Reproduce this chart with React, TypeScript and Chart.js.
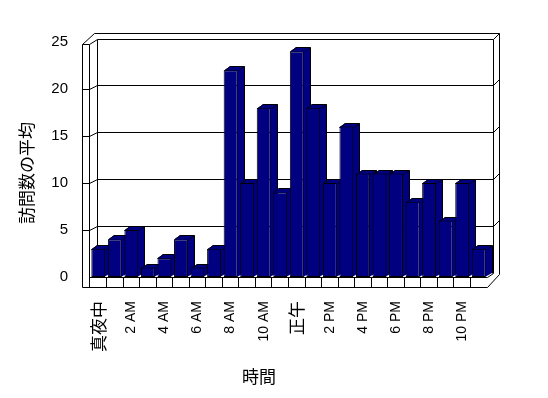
import { useEffect, useRef } from 'react';
import { Chart, registerables } from 'chart.js';

Chart.register(...registerables);

// ---- data ----
const hourLabels = [
  '真夜中', '1 AM', '2 AM', '3 AM', '4 AM', '5 AM', '6 AM', '7 AM', '8 AM', '9 AM', '10 AM', '11 AM',
  '正午', '1 PM', '2 PM', '3 PM', '4 PM', '5 PM', '6 PM', '7 PM', '8 PM', '9 PM', '10 PM', '11 PM',
];
const avgVisits = [3, 4, 5, 1, 2, 4, 1, 3, 22, 10, 18, 9, 24, 18, 10, 16, 11, 11, 11, 8, 10, 6, 10, 3];
const yMin = 0;
const yMax = 25;
const yStep = 5;
const yTitle = '訪問数の平均';
const xTitle = '時間';

// ---- style ----
const LATIN = "'Liberation Sans', Arial, 'Noto Sans CJK JP', sans-serif";
const CJK = "'Noto Sans CJK JP', 'Liberation Sans', sans-serif";
const NAVY = '#000080';
const DX = 6; // bar depth offset
const DY = -4;

const frame3d = {
  id: 'frame3d',
  beforeDatasetsDraw(chart: any) {
    const { ctx, chartArea: ca, scales } = chart;
    const xs = scales.x;
    const ys = scales.y;
    const h = (v: number) => Math.floor(v) + 0.5;
    const line = (pts: number[][]) => {
      ctx.beginPath();
      pts.forEach((p, i) => (i ? ctx.lineTo(h(p[0]), h(p[1])) : ctx.moveTo(h(p[0]), h(p[1]))));
      ctx.stroke();
    };
    const y0 = ys.getPixelForValue(yMin);
    const wallOuter = ca.left - 8;
    const wallInner = ca.left - 1;
    const backLeft = ca.left + 7;
    const backRight = ca.right + 6;
    const outerRight = ca.right + 12;
    const backTop = ca.top - 3;
    const outerTop = ca.top - 9;
    const wallTop = ca.top + 2;
    const floorBottom = y0 + 10;
    const backBottom = y0 - 4;
    const frontRight = ca.right;

    ctx.save();
    ctx.strokeStyle = '#000';
    ctx.lineWidth = 1;

    // outer outline
    line([
      [wallOuter, floorBottom], [wallOuter, wallTop], [wallOuter + 12, outerTop], [outerRight, outerTop],
      [outerRight, backBottom + 1], [frontRight, floorBottom], [wallOuter, floorBottom],
    ]);
    // left wall inner front edge
    line([[wallInner, floorBottom], [wallInner, wallTop], [backLeft, backTop]]);
    line([[wallOuter, wallTop], [wallInner, wallTop]]);
    // back wall face
    line([[backLeft, backBottom], [backLeft, backTop], [backRight, backTop], [backRight, backBottom]]);
    line([[backRight, backTop], [outerRight, outerTop]]);
    // floor
    line([[wallInner, y0], [frontRight, y0], [backRight, backBottom]]);
    // gridlines on back wall
    for (let v = yMin + yStep; v < yMax; v += yStep) {
      const yf = ys.getPixelForValue(v);
      const yb = yf - 4;
      line([[wallOuter, yf], [wallInner, yf], [backLeft, yb], [backRight, yb], [outerRight, yb - 6]]);
    }
    // floor slot dividers
    const n = hourLabels.length;
    const slot = xs.getPixelForValue(1) - xs.getPixelForValue(0);
    for (let i = 1; i < n; i++) {
      const xb = xs.getPixelForValue(i) - slot / 2;
      line([[xb, y0], [xb, floorBottom]]);
    }
    // bar top and side faces
    const meta = chart.getDatasetMeta(0);
    ctx.fillStyle = NAVY;
    meta.data.forEach((el: any) => {
      const { x, y, base, width } = el.getProps(['x', 'y', 'base', 'width'], true);
      const l = Math.round(x - width / 2);
      const r = Math.round(x + width / 2);
      const t = Math.round(y);
      const b = Math.round(base);
      // side
      ctx.beginPath();
      ctx.moveTo(r - 1, t);
      ctx.lineTo(r + DX, t + DY);
      ctx.lineTo(r + DX, b + DY);
      ctx.lineTo(r - 1, b);
      ctx.closePath();
      ctx.fill();
      line([[r, t], [r + DX, t + DY], [r + DX, b + DY]]);
      // top
      ctx.beginPath();
      ctx.moveTo(l, t + 1);
      ctx.lineTo(l + DX, t + DY);
      ctx.lineTo(r + DX, t + DY);
      ctx.lineTo(r, t + 1);
      ctx.closePath();
      ctx.fill();
      line([[l, t], [l + DX, t + DY], [r + DX, t + DY]]);
    });
    ctx.restore();
  },
  afterDraw(chart: any) {
    const { ctx } = chart;
    ctx.save();
    ctx.fillStyle = '#000';
    ctx.font = `17px ${CJK}`;
    ctx.textAlign = 'center';
    ctx.textBaseline = 'middle';
    ctx.fillText(xTitle, 259, 377);
    ctx.translate(27, 173);
    ctx.rotate(-Math.PI / 2);
    ctx.fillText(yTitle, 0, 0);
    ctx.restore();
  },
};

export default function App() {
  const ref = useRef<HTMLCanvasElement>(null);
  useEffect(() => {
    if (!ref.current) return;
    const chart = new Chart(ref.current, {
      type: 'bar',
      data: {
        labels: hourLabels,
        datasets: [
          {
            data: avgVisits,
            backgroundColor: NAVY,
            borderColor: '#000',
            borderWidth: 1,
            borderSkipped: false,
            categoryPercentage: 1,
            barPercentage: 0.84,
          },
        ],
      },
      options: {
        responsive: false,
        animation: false,
        devicePixelRatio: 1,
        layout: { padding: { top: 42, right: 61, left: 0, bottom: 0 } },
        plugins: { legend: { display: false }, tooltip: { enabled: false } },
        scales: {
          x: {
            grid: { display: false },
            border: { display: false },
            afterFit: (s: any) => {
              s.height = 121;
            },
            ticks: {
              autoSkip: false,
              maxRotation: 90,
              minRotation: 90,
              padding: 16,
              color: '#000',
              font: (c: any) =>
                /[^\x00-\x7f]/.test(hourLabels[c.index] || '')
                  ? { family: CJK, size: 17 }
                  : { family: LATIN, size: 14 },
              callback: (_v: any, i: number) => (i % 2 === 0 ? hourLabels[i] : ''),
            },
          },
          y: {
            min: yMin,
            max: yMax,
            grid: { display: false },
            border: { display: false },
            afterFit: (s: any) => {
              s.width = 90;
            },
            ticks: {
              stepSize: yStep,
              padding: 14,
              color: '#000',
              font: { family: LATIN, size: 15 },
            },
          },
        },
      },
      plugins: [frame3d],
    });
    return () => chart.destroy();
  }, []);
  return (
    <div style={{ position: 'fixed', left: 0, top: 0, width: 548, height: 398, background: '#fff' }}>
      <canvas ref={ref} width={548} height={398} />
    </div>
  );
}
